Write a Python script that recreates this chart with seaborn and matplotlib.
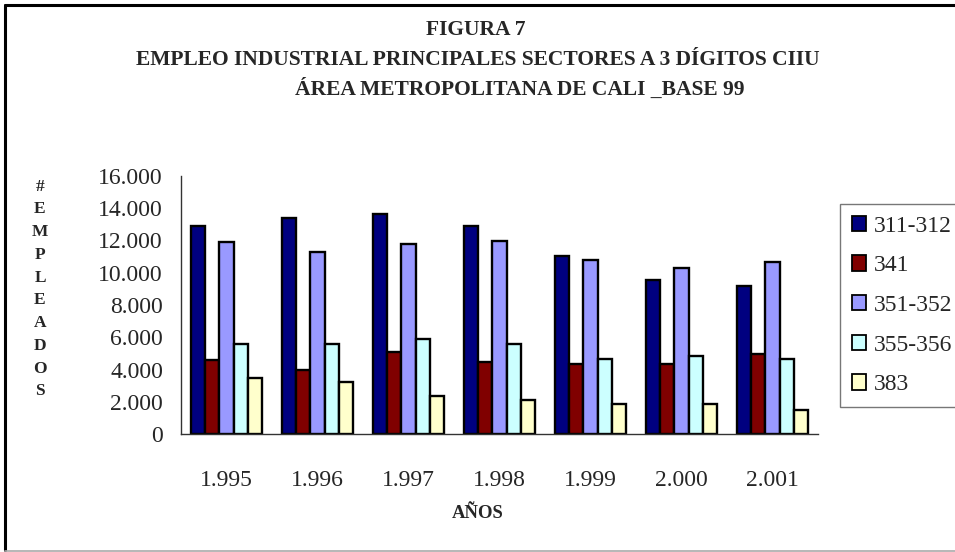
import matplotlib
matplotlib.use("Agg")
import matplotlib.pyplot as plt
import seaborn as sns
import pandas as pd
from matplotlib.lines import Line2D
from matplotlib.ticker import FuncFormatter, FixedLocator

years = ["1.995", "1.996", "1.997", "1.998", "1.999", "2.000", "2.001"]
sectors = ["311-312", "341", "351-352", "355-356", "383"]
v_311_312 = [12870, 13370, 13640, 12870, 11010, 9550, 9150]
v_341 = [4560, 3940, 5060, 4440, 4320, 4320, 4940]
v_351_352 = [11880, 11290, 11760, 12000, 10790, 10270, 10640]
v_355_356 = [5580, 5580, 5910, 5580, 4670, 4810, 4670]
v_383 = [3450, 3200, 2330, 2110, 1840, 1840, 1460]
colors = ["#000080", "#800000", "#9999FF", "#CCFFFF", "#FFFFCC"]

series = [v_311_312, v_341, v_351_352, v_355_356, v_383]
rows = []
for s, vals in zip(sectors, series):
    for y, v in zip(years, vals):
        rows.append({"year": y, "sector": s, "value": v})
df = pd.DataFrame(rows)

sns.set_style("white")
plt.rcParams["font.family"] = ["Liberation Serif", "DejaVu Serif"]

fig = plt.figure(figsize=(9.55, 5.52), dpi=100)
ax = fig.add_axes([181/955, 1-434/552, 637/955, 258/552])

sns.barplot(data=df, x="year", y="value", hue="sector", order=years,
            hue_order=sectors, palette=colors, edgecolor="black",
            linewidth=1.7, width=0.78, gap=0, ax=ax, legend=False,
            saturation=1, errorbar=None)

ax.set_ylim(0, 16000)
ax.set_xlim(-0.5, 6.5)
ax.set_yticks(range(0, 16001, 2000))
ax.yaxis.set_major_formatter(FuncFormatter(lambda v, p: f"{int(v):,}".replace(",", ".")))
ax.tick_params(axis="y", length=5, width=1, color="#333333", labelsize=17, pad=8, direction="out")
ax.tick_params(axis="x", which="major", length=0, labelsize=17, pad=26)
ax.xaxis.set_minor_locator(FixedLocator([i - 0.5 for i in range(8)]))
ax.tick_params(axis="x", which="minor", length=6, width=1, color="#333333", direction="out")
ax.set_xlabel("")
ax.set_ylabel("")
for side in ["top", "right"]:
    ax.spines[side].set_visible(False)
for side in ["left", "bottom"]:
    ax.spines[side].set_color("#333333")
    ax.spines[side].set_linewidth(1)

# Titles
fig.text(476/955, 1-30/552, "FIGURA 7", ha="center", va="center",
         fontsize=15.5, fontweight="bold")
fig.text(478/955, 1-60/552, "EMPLEO INDUSTRIAL PRINCIPALES SECTORES A 3 DÍGITOS CIIU",
         ha="center", va="center", fontsize=15.5, fontweight="bold")
fig.text(520/955, 1-89/552, "ÁREA METROPOLITANA DE CALI _BASE 99",
         ha="center", va="center", fontsize=15.5, fontweight="bold")

# Y label stacked
fig.text(40/955, 1-289/552, "\n".join("#EMPLEADOS"), ha="center", va="center",
         fontsize=12.5, fontweight="bold", linespacing=1.56)
# X label
fig.text(478/955, 1-513/552, "AÑOS", ha="center", va="center",
         fontsize=13.5, fontweight="bold")

# Legend
handles = [plt.Rectangle((0, 0), 1, 1, facecolor=c, edgecolor="black", linewidth=1.3)
           for c in colors]
leg = fig.legend(handles, sectors, loc="upper left",
                 bbox_to_anchor=(840/955, 1-204/552), bbox_transform=fig.transFigure,
                 fontsize=17, frameon=True, fancybox=False, handlelength=0.62,
                 handleheight=0.62, handletextpad=0.3, labelspacing=0.79,
                 borderpad=0.5, borderaxespad=0)
leg.get_frame().set_edgecolor("#555555")
leg.get_frame().set_linewidth(1)

# Outer frame
fig.add_artist(Line2D([5/955, 1], [1-5/552, 1-5/552], transform=fig.transFigure,
                      color="black", linewidth=2.2))
fig.add_artist(Line2D([5/955, 5/955], [1-5/552, 1-550/552], transform=fig.transFigure,
                      color="black", linewidth=2.2))
fig.add_artist(Line2D([5/955, 1], [1-550.5/552, 1-550.5/552], transform=fig.transFigure,
                      color="#aaaaaa", linewidth=1.2))

fig.savefig("out.png", dpi=100, facecolor="white")
